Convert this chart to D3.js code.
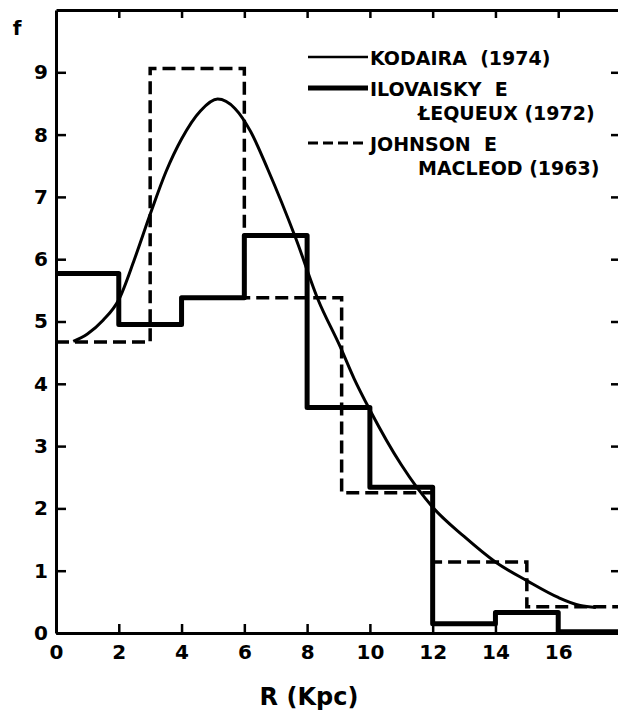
<!DOCTYPE html>
<html>
<head>
<meta charset="utf-8">
<script src="https://cdn.jsdelivr.net/npm/d3@7"></script>
<style>
  html, body { margin: 0; padding: 0; background: #fff; }
  svg { display: block; }
  text { font-family: "DejaVu Sans", sans-serif; font-weight: bold; fill: #000; white-space: pre; }
</style>
</head>
<body>
<svg id="chart" width="618" height="715"></svg>
<script>
// ---- data ----
const xTicks = [0, 2, 4, 6, 8, 10, 12, 14, 16];
const yTicks = [0, 1, 2, 3, 4, 5, 6, 7, 8, 9];

// Kodaira (1974) smooth curve: R, f
const kodairaR = [0.55, 1.0, 1.5, 2.0, 2.5, 3.0, 3.5, 4.0, 4.6, 5.15, 5.7, 6.2, 6.75, 7.65, 8.35, 9.05, 9.5, 10.0, 11.0, 12.0, 13.0, 14.0, 15.0, 16.0, 16.7, 17.2];
const kodairaF = [4.68, 4.8, 5.02, 5.35, 6.0, 6.72, 7.4, 7.93, 8.38, 8.57, 8.42, 8.05, 7.44, 6.32, 5.35, 4.6, 4.08, 3.58, 2.7, 2.02, 1.55, 1.14, 0.84, 0.57, 0.44, 0.41];

// Ilovaisky e Lequeux (1972) histogram
const ilovEdges = [0, 2, 4, 6, 8, 10, 12, 14, 16, 18];
const ilovF = [5.77, 4.95, 5.38, 6.38, 3.62, 2.34, 0.15, 0.33, 0.02];

// Johnson e MacLeod (1963) histogram
const johnEdges = [0, 3, 6, 9.1, 12, 15, 18];
const johnF = [4.67, 9.06, 5.38, 2.25, 1.14, 0.42];

const legendLines1 = ["KODAIRA  (1974)", "ILOVAISKY  E", "JOHNSON  E"];
const legendLines2 = ["", "ŁEQUEUX (1972)", "MACLEOD (1963)"];

// ---- chart ----
const svg = d3.select("#chart");
const x = d3.scaleLinear().domain([0, 18]).range([56, 621]);
const y = d3.scaleLinear().domain([0, 10]).range([633, 10]);

const axisG = svg.append("g");

function styleAxis(g) {
  g.selectAll("path.domain").attr("stroke", "#000").attr("stroke-width", 3);
  g.selectAll(".tick line").attr("stroke", "#000").attr("stroke-width", 2.5);
  g.selectAll(".tick text").attr("font-family", "DejaVu Sans").attr("font-weight", "bold").attr("font-size", 20).attr("fill", "#000");
}

axisG.append("g").attr("transform", `translate(0,${y(0)})`)
  .call(d3.axisBottom(x).tickValues(xTicks).tickSizeInner(-9).tickSizeOuter(0).tickPadding(12).tickFormat(d3.format("d")))
  .call(styleAxis);

axisG.append("g").attr("transform", `translate(0,${y(10)})`)
  .call(d3.axisTop(x).tickValues(xTicks.slice(1)).tickSizeInner(-8).tickSizeOuter(0).tickFormat(""))
  .call(styleAxis);

axisG.append("g").attr("transform", `translate(${x(0)},0)`)
  .call(d3.axisLeft(y).tickValues(yTicks).tickSizeInner(-10).tickSizeOuter(0).tickPadding(8).tickFormat(d3.format("d")))
  .call(styleAxis);

axisG.append("g").attr("transform", `translate(${x(18)},0)`)
  .call(d3.axisRight(y).tickValues(yTicks.slice(1)).tickSizeInner(-10).tickSizeOuter(0).tickFormat(""))
  .call(styleAxis);

// axis titles
svg.append("text").attr("x", 17).attr("y", 35).attr("text-anchor", "middle").attr("font-size", 20).text("f");
svg.append("text").attr("x", 309).attr("y", 705).attr("text-anchor", "middle").attr("font-size", 24).text("R (Kpc)");

// histograms
function stepPoints(edges, vals) {
  const pts = vals.map((v, i) => [edges[i], v]);
  pts.push([edges[edges.length - 1], vals[vals.length - 1]]);
  return pts;
}
const stepLine = d3.line().x(d => x(d[0])).y(d => y(d[1])).curve(d3.curveStepAfter);

svg.append("path")
  .attr("d", stepLine(stepPoints(johnEdges, johnF)))
  .attr("fill", "none").attr("stroke", "#000").attr("stroke-width", 3.5)
  .attr("stroke-dasharray", "13,6");

svg.append("path")
  .attr("d", stepLine(stepPoints(ilovEdges, ilovF)))
  .attr("fill", "none").attr("stroke", "#000").attr("stroke-width", 5)
  .attr("stroke-linejoin", "round");

// Kodaira curve
const curveLine = d3.line().x((d, i) => x(kodairaR[i])).y(d => y(d)).curve(d3.curveMonotoneX);
svg.append("path")
  .attr("d", curveLine(kodairaF))
  .attr("fill", "none").attr("stroke", "#000").attr("stroke-width", 3);

// legend
const lg = svg.append("g");
const legY = [57, 88, 143];
const legStyles = [
  { w: 2.5, dash: null },
  { w: 5, dash: null },
  { w: 3, dash: "10,5" }
];
legY.forEach((ly, i) => {
  lg.append("line").attr("x1", 308).attr("x2", 368).attr("y1", ly).attr("y2", ly)
    .attr("stroke", "#000").attr("stroke-width", legStyles[i].w)
    .attr("stroke-dasharray", legStyles[i].dash);
  lg.append("text").attr("x", 370).attr("y", ly + 7.5).attr("font-size", 19).text(legendLines1[i]);
  if (legendLines2[i]) {
    lg.append("text").attr("x", 418).attr("y", ly + 32).attr("font-size", 19).text(legendLines2[i]);
  }
});
</script>
</body>
</html>
